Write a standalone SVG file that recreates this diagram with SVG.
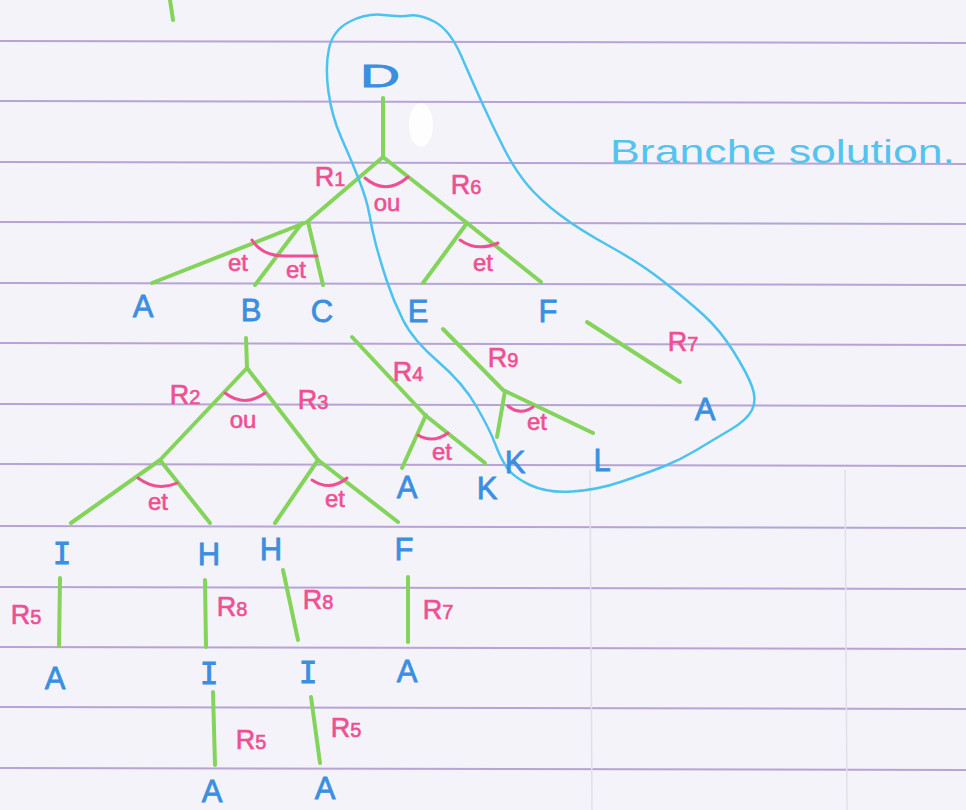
<svg xmlns="http://www.w3.org/2000/svg" width="966" height="810" viewBox="0 0 966 810">
<defs>
<style>
.paper{fill:#f4f3f9}
.rule{stroke:#b7a3d4;stroke-width:2;fill:none}
.vrule{stroke:#e0e0ec;stroke-width:1.5;fill:none}
.g{stroke:#84d45c;stroke-width:4;stroke-linecap:round;stroke-linejoin:round;fill:none}
.arc{stroke:#ef4f93;stroke-width:3;stroke-linecap:round;fill:none}
.loop{stroke:#4cc3ee;stroke-width:2.5;fill:none}
.n{font-family:"Liberation Sans",Arial,sans-serif;font-size:31px;fill:#3b8fe0;stroke:#3b8fe0;stroke-width:0.8;text-anchor:middle}
.ni{font-family:"DejaVu Sans Mono",monospace;font-size:31px;fill:#3b8fe0;stroke:#3b8fe0;stroke-width:0.8;text-anchor:middle}
.r{font-family:"Liberation Sans",Arial,sans-serif;font-size:27px;fill:#ef4f93;stroke:#ef4f93;stroke-width:0.6;text-anchor:middle}
.r tspan{font-size:20px}
.w{font-family:"Liberation Sans",Arial,sans-serif;font-size:24px;fill:#ef4f93;stroke:#ef4f93;stroke-width:0.6;text-anchor:middle}
.note{font-family:"Liberation Sans",Arial,sans-serif;font-size:34px;fill:#54c4ef}
</style>
</defs>
<rect class="paper" x="0" y="0" width="966" height="810"/>
<g id="paper-lines">
<path class="rule" d="M0,41 L966,43"/>
<path class="rule" d="M0,101 L966,103"/>
<path class="rule" d="M0,162 L966,164"/>
<path class="rule" d="M0,222 L966,224"/>
<path class="rule" d="M0,283 L966,285"/>
<path class="rule" d="M0,343 L966,345"/>
<path class="rule" d="M0,404 L966,406"/>
<path class="rule" d="M0,464 L966,466"/>
<path class="rule" d="M0,526 L966,528"/>
<path class="rule" d="M0,587 L966,589"/>
<path class="rule" d="M0,647 L966,649"/>
<path class="rule" d="M0,707 L966,709"/>
<path class="rule" d="M0,768 L966,770"/>
<path class="vrule" d="M590,470 L592,810"/>
<path class="vrule" d="M845,470 L847,810"/>
</g>
<ellipse cx="421" cy="125" rx="12" ry="22" fill="#ffffff" opacity="0.9"/>
<g id="connectors">
<path class="g" d="M170,0 L173,20"/>
<path class="g" d="M383,98 L383,157"/>
<path class="g" d="M383,157 L307,222 L152,283"/>
<path class="g" d="M302,223 L255,285"/>
<path class="g" d="M308,222 L323,285"/>
<path class="g" d="M383,157 L467,223 L541,282"/>
<path class="g" d="M467,223 L423,283"/>
<path class="g" d="M246,338 L247,368"/>
<path class="g" d="M247,368 L160,460 L71,523"/>
<path class="g" d="M160,460 L210,523"/>
<path class="g" d="M247,368 L318,460 L398,522"/>
<path class="g" d="M318,460 L275,523"/>
<path class="g" d="M352,337 L425,415 L485,463"/>
<path class="g" d="M426,415 L402,468"/>
<path class="g" d="M443,329 L503,390 L593,433"/>
<path class="g" d="M505,391 L497,437"/>
<path class="g" d="M587,322 L680,382"/>
<path class="g" d="M60,578 L59,646"/>
<path class="g" d="M205,580 L206,647"/>
<path class="g" d="M283,570 L298,640"/>
<path class="g" d="M408,577 L408,642"/>
<path class="g" d="M213,692 L215,765"/>
<path class="g" d="M311,697 L320,763"/>
</g>
<g id="arcs">
<path class="arc" d="M365,178 Q386,196 408,177"/>
<path class="arc" d="M252,240 Q262,256 285,256 L317,256"/>
<path class="arc" d="M225,393 Q245,408 265,393"/>
<path class="arc" d="M138,478 Q157,492 177,483"/>
<path class="arc" d="M312,480 Q330,492 347,478"/>
<path class="arc" d="M418,435 Q433,444 448,433"/>
<path class="arc" d="M508,406 Q520,416 533,407"/>
<path class="arc" d="M460,240 Q477,252 498,243"/>
</g>
<g id="solution-loop">
<path class="loop" d="M329,48.5 Q333,30 350,21.5 Q367,13 383.5,15 Q400,17 410,15.5 Q420,14 435,22 Q450,30 461.5,56.5 Q473,83 483,105 Q493,127 504,148.5 Q515,170 527.5,185 Q540,200 560,215 Q580,230 610,246.5 Q640,263 663.5,281.5 Q687,300 703.5,315 Q720,330 733.5,351.5 Q747,373 752,386.5 Q757,400 752,410 Q747,420 730,430 Q713,440 696.5,450 Q680,460 663.5,466.5 Q647,473 622,481.5 Q597,490 572,491.5 Q547,493 530,485 Q513,477 506.5,467 Q500,457 495,443.5 Q490,430 476.5,406.5 Q463,383 438,361.5 Q413,340 403,320 Q393,300 386.5,280 Q380,260 376,245 Q372,230 369.5,215 Q367,200 358.5,178.5 Q350,157 341,137 Q332,117 328.5,92 Q325,67 329,48.5 Z"/>
<text class="note" x="610" y="163" textLength="345" lengthAdjust="spacingAndGlyphs">Branche solution.</text>
</g>
<g id="labels">
<text class="r" x="330" y="186">R<tspan>1</tspan></text>
<text class="r" x="466" y="194">R<tspan>6</tspan></text>
<text class="w" x="387" y="211">ou</text>
<text class="w" x="238" y="271">et</text>
<text class="w" x="296" y="278">et</text>
<text class="w" x="483" y="271">et</text>
<text class="r" x="185" y="404">R<tspan>2</tspan></text>
<text class="r" x="313" y="409">R<tspan>3</tspan></text>
<text class="w" x="243" y="428">ou</text>
<text class="w" x="158" y="510">et</text>
<text class="w" x="335" y="507">et</text>
<text class="r" x="408" y="381">R<tspan>4</tspan></text>
<text class="w" x="442" y="460">et</text>
<text class="r" x="503" y="367">R<tspan>9</tspan></text>
<text class="w" x="537" y="430">et</text>
<text class="r" x="683" y="351">R<tspan>7</tspan></text>
<text class="r" x="26" y="624">R<tspan>5</tspan></text>
<text class="r" x="232" y="616">R<tspan>8</tspan></text>
<text class="r" x="318" y="609">R<tspan>8</tspan></text>
<text class="r" x="438" y="619">R<tspan>7</tspan></text>
<text class="r" x="251" y="749">R<tspan>5</tspan></text>
<text class="r" x="346" y="737">R<tspan>5</tspan></text>
</g>
<g id="node-D"><text class="n" x="380" y="87" font-size="36" textLength="40" lengthAdjust="spacingAndGlyphs">D</text></g>
<g id="node-A1"><text class="n" x="143" y="317">A</text></g>
<g id="node-B"><text class="n" x="251" y="321">B</text></g>
<g id="node-C"><text class="n" x="322" y="322">C</text></g>
<g id="node-E"><text class="n" x="418" y="322">E</text></g>
<g id="node-F1"><text class="n" x="548" y="322">F</text></g>
<g id="node-A2"><text class="n" x="705" y="420">A</text></g>
<g id="node-K1"><text class="n" x="515" y="473" font-size="28">K</text></g>
<g id="node-L"><text class="n" x="602" y="471" font-size="28">L</text></g>
<g id="node-A3"><text class="n" x="407" y="498">A</text></g>
<g id="node-K2"><text class="n" x="487" y="499">K</text></g>
<g id="node-I1"><text class="ni" x="62" y="564">I</text></g>
<g id="node-H1"><text class="n" x="209" y="565">H</text></g>
<g id="node-H2"><text class="n" x="271" y="560">H</text></g>
<g id="node-F2"><text class="n" x="404" y="560">F</text></g>
<g id="node-A4"><text class="n" x="55" y="689">A</text></g>
<g id="node-I2"><text class="ni" x="209" y="684">I</text></g>
<g id="node-I3"><text class="ni" x="308" y="683">I</text></g>
<g id="node-A5"><text class="n" x="407" y="682">A</text></g>
<g id="node-A6"><text class="n" x="212" y="802">A</text></g>
<g id="node-A7"><text class="n" x="325" y="799">A</text></g>
</svg>
